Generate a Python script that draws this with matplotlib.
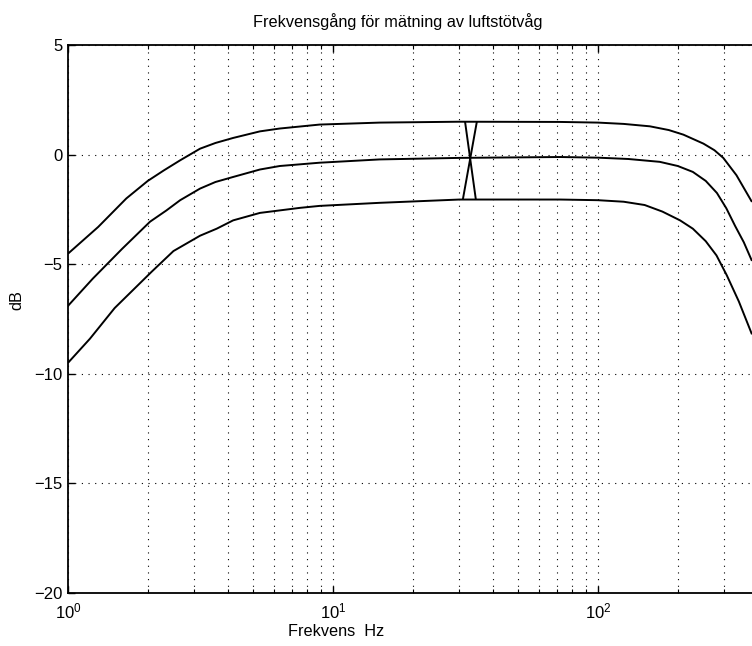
import matplotlib
matplotlib.use("Agg")
import matplotlib.pyplot as plt
from matplotlib.ticker import LogLocator, FixedLocator, NullFormatter, FixedFormatter

plt.rcParams['font.family'] = ['Liberation Sans', 'DejaVu Sans']

# ---- data ----
upper_f  = [1.0, 1.3, 1.66, 2.0, 2.3, 2.65, 3.15, 3.6, 4.2, 5.3, 6.3, 8.9, 15, 30, 72, 100, 125,
            157, 185, 210, 250, 275, 297, 333, 381]
upper_db = [-4.52, -3.3, -2.0, -1.2, -0.72, -0.26, 0.27, 0.53, 0.76, 1.06, 1.19, 1.37, 1.46, 1.5, 1.49,
            1.46, 1.4, 1.29, 1.12, 0.91, 0.5, 0.2, -0.15, -0.94, -2.16]

middle_f  = [1.0, 1.24, 1.6, 2.04, 2.35, 2.65, 3.15, 3.6, 4.2, 5.3, 6.3, 8.9, 15, 30, 72, 100, 130,
             171, 200, 228, 255, 281, 305, 329, 355, 381]
middle_db = [-6.9, -5.66, -4.3, -3.06, -2.55, -2.08, -1.55, -1.25, -1.02, -0.68, -0.52, -0.37, -0.22,
             -0.15, -0.11, -0.14, -0.2, -0.33, -0.52, -0.79, -1.2, -1.75, -2.45, -3.25, -4.0, -4.85]

lower_f  = [1.0, 1.21, 1.5, 2.07, 2.5, 3.15, 3.64, 4.2, 5.3, 7.5, 8.9, 15, 30, 72, 100, 125,
            150, 175, 204, 228, 255, 280, 306, 340, 381]
lower_db = [-9.5, -8.4, -7.0, -5.34, -4.4, -3.7, -3.38, -3.0, -2.66, -2.43, -2.34, -2.2, -2.05, -2.05,
            -2.08, -2.15, -2.3, -2.6, -3.0, -3.38, -3.95, -4.6, -5.5, -6.7, -8.2]

cross_a_f  = [31.5, 34.6]
cross_a_db = [1.5, -2.05]
cross_b_f  = [34.9, 30.9]
cross_b_db = [1.5, -2.05]

y_ticks = [-20, -15, -10, -5, 0, 5]
y_tick_labels = ['\u221220', '\u221215', '\u221210', '\u22125', '0', '5']
x_ticks = [1, 10, 100]
x_tick_labels = ['$\\mathregular{10^0}$', '$\\mathregular{10^1}$', '$\\mathregular{10^2}$']

title = 'Frekvensgång för mätning av luftstötvåg'
xlabel = 'Frekvens  Hz'
ylabel = 'dB'

# ---- figure ----
W, H = 752, 646
fig = plt.figure(figsize=(W / 100, H / 100), dpi=100)
ax = fig.add_axes([68 / W, 53 / H, (W - 68) / W, 548 / H])

for f, d in [(upper_f, upper_db), (middle_f, middle_db), (lower_f, lower_db),
             (cross_a_f, cross_a_db), (cross_b_f, cross_b_db)]:
    ax.plot(f, d, color='black', lw=1.4, solid_capstyle='butt', solid_joinstyle='round')

ax.set_xscale('log')
ax.set_xlim(1, 10 ** ((W - 68) / 265))
ax.set_ylim(-20, 5)

ax.xaxis.set_major_locator(FixedLocator(x_ticks))
ax.xaxis.set_major_formatter(FixedFormatter(x_tick_labels))
ax.xaxis.set_minor_locator(LogLocator(base=10, subs=range(2, 10), numticks=20))
ax.xaxis.set_minor_formatter(NullFormatter())
ax.yaxis.set_major_locator(FixedLocator(y_ticks))
ax.yaxis.set_major_formatter(FixedFormatter(y_tick_labels))

grid_kw = dict(color='black', linestyle=(0, (1, 5)), linewidth=0.8)
ax.grid(True, which='major', axis='both', **grid_kw)
ax.grid(True, which='minor', axis='x', **grid_kw)

ax.tick_params(which='both', direction='in', top=True, right=False, labelsize=12, colors='black')
ax.tick_params(which='major', length=5, width=1)
ax.tick_params(which='minor', length=3, width=0.8)
ax.tick_params(axis='x', pad=6)
ax.tick_params(axis='y', pad=4)

ax.spines['right'].set_visible(False)
for s in ['left', 'bottom', 'top']:
    ax.spines[s].set_linewidth(1.3)

fig.text(398 / W, 1 - 22 / H, title, ha='center', va='center', fontsize=11.7)
fig.text(336 / W, 1 - 631 / H, xlabel, ha='center', va='center', fontsize=11.7)
fig.text(17 / W, 1 - 300 / H, ylabel, ha='center', va='center', rotation=90, fontsize=11.7)

fig.savefig('out.png', dpi=100)
